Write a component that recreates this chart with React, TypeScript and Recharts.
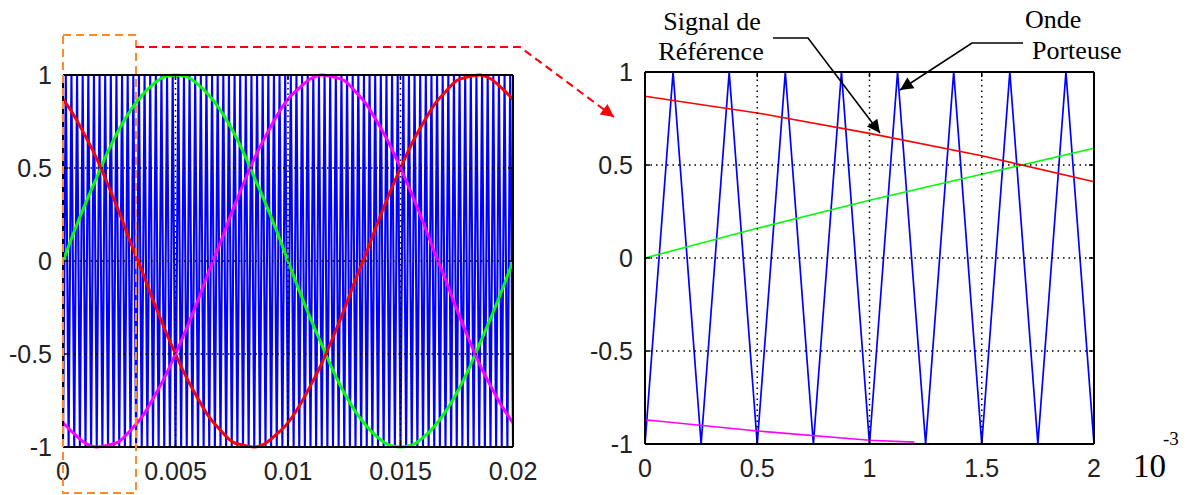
import { LineChart, Line, XAxis, YAxis, ReferenceLine } from 'recharts';

// carrier (triangle) vertices, in ms
const CARRIER_TROUGHS_MS = [
  0, 0.25, 0.5, 0.75, 1, 1.25, 1.5, 1.75, 2, 2.25, 2.5, 2.75, 3, 3.25, 3.5, 3.75,
  4, 4.25, 4.5, 4.75, 5, 5.25, 5.5, 5.75, 6, 6.25, 6.5, 6.75, 7, 7.25, 7.5, 7.75,
  8, 8.25, 8.5, 8.75, 9, 9.25, 9.5, 9.75, 10, 10.25, 10.5, 10.75, 11, 11.25, 11.5, 11.75,
  12, 12.25, 12.5, 12.75, 13, 13.25, 13.5, 13.75, 14, 14.25, 14.5, 14.75, 15, 15.25, 15.5, 15.75,
  16, 16.25, 16.5, 16.75, 17, 17.25, 17.5, 17.75, 18, 18.25, 18.5, 18.75, 19, 19.25, 19.5, 19.75,
  20,
];
const CARRIER_PEAKS_MS = [
  0.125, 0.375, 0.625, 0.875, 1.125, 1.375, 1.625, 1.875, 2.125, 2.375, 2.625, 2.875,
  3.125, 3.375, 3.625, 3.875, 4.125, 4.375, 4.625, 4.875, 5.125, 5.375, 5.625, 5.875,
  6.125, 6.375, 6.625, 6.875, 7.125, 7.375, 7.625, 7.875, 8.125, 8.375, 8.625, 8.875,
  9.125, 9.375, 9.625, 9.875, 10.125, 10.375, 10.625, 10.875, 11.125, 11.375, 11.625, 11.875,
  12.125, 12.375, 12.625, 12.875, 13.125, 13.375, 13.625, 13.875, 14.125, 14.375, 14.625, 14.875,
  15.125, 15.375, 15.625, 15.875, 16.125, 16.375, 16.625, 16.875, 17.125, 17.375, 17.625, 17.875,
  18.125, 18.375, 18.625, 18.875, 19.125, 19.375, 19.625, 19.875,
];
const CARRIER_MIN = -1;
const CARRIER_MAX = 1;

// reference signals, sampled every 0.5 ms
const TIME_MS = [
  0, 0.5, 1, 1.5, 2, 2.5, 3, 3.5, 4, 4.5, 5, 5.5, 6, 6.5, 7, 7.5, 8, 8.5, 9, 9.5,
  10, 10.5, 11, 11.5, 12, 12.5, 13, 13.5, 14, 14.5, 15, 15.5, 16, 16.5, 17, 17.5,
  18, 18.5, 19, 19.5, 20,
];
const REF_GREEN = [
  0, 0.16, 0.31, 0.45, 0.59, 0.71, 0.81, 0.89, 0.95, 0.99, 1, 0.99, 0.95, 0.89, 0.81, 0.71,
  0.59, 0.45, 0.31, 0.16, 0, -0.16, -0.31, -0.45, -0.59, -0.71, -0.81, -0.89, -0.95, -0.99,
  -1, -0.99, -0.95, -0.89, -0.81, -0.71, -0.59, -0.45, -0.31, -0.16, 0,
];
const REF_RED = [
  0.87, 0.78, 0.67, 0.55, 0.41, 0.26, 0.1, -0.05, -0.21, -0.36, -0.5, -0.63, -0.74, -0.84,
  -0.91, -0.97, -0.99, -1, -0.98, -0.93, -0.87, -0.78, -0.67, -0.55, -0.41, -0.26, -0.1,
  0.05, 0.21, 0.36, 0.5, 0.63, 0.74, 0.84, 0.91, 0.97, 0.99, 1, 0.98, 0.93, 0.87,
];
const REF_MAGENTA = [
  -0.87, -0.93, -0.98, -1, -0.99, -0.97, -0.91, -0.84, -0.74, -0.63, -0.5, -0.36, -0.21,
  -0.05, 0.1, 0.26, 0.41, 0.55, 0.67, 0.78, 0.87, 0.93, 0.98, 1, 0.99, 0.97, 0.91, 0.84,
  0.74, 0.63, 0.5, 0.36, 0.21, 0.05, -0.1, -0.26, -0.41, -0.55, -0.67, -0.78, -0.87,
];
// magenta only shows up to ~1.2 ms in the zoom, then it hides under the axis
const MAGENTA_ZOOM_MS = [0, 0.5, 1, 1.2];
const MAGENTA_ZOOM = [-0.87, -0.93, -0.98, -0.99];

const Y_TICKS = [-1, -0.5, 0, 0.5, 1];
const X_TICKS_FULL = [0, 5, 10, 15, 20];
const X_TICKS_ZOOM = [0, 0.5, 1, 1.5, 2];
const ZOOM_END_MS = 2;

type Row = { t: number; v: number };

const toRows = (t: number[], v: number[]): Row[] => t.map((x, i) => ({ t: x, v: v[i] }));

const carrierRows: Row[] = [
  ...CARRIER_TROUGHS_MS.map((t) => ({ t, v: CARRIER_MIN })),
  ...CARRIER_PEAKS_MS.map((t) => ({ t, v: CARRIER_MAX })),
].sort((a, b) => a.t - b.t);

const greenRows = toRows(TIME_MS, REF_GREEN);
const redRows = toRows(TIME_MS, REF_RED);
const magentaRows = toRows(TIME_MS, REF_MAGENTA);

const inZoom = (r: Row) => r.t <= ZOOM_END_MS;

const TICK_FONT = { fontFamily: '"Liberation Sans", Arial, sans-serif', fontSize: 25, fill: '#222' };
const SERIF = '"Liberation Serif", "Times New Roman", serif';
const FRAME = { stroke: '#000', strokeWidth: 2 };
const MINOR = { stroke: '#000', strokeWidth: 1.5 };
const GRID = { stroke: '#000', strokeWidth: 1.5, strokeDasharray: '1.5 4' };
const Y_AXIS_W = 60;
const CHART_H = 495;
const X_AXIS_H = 40;
const TICK_PX = 5;

const fmtSeconds = (v: number) => String(v / 1000);

interface PanelProps {
  width: number;
  margin: { top: number; right: number; bottom: number; left: number };
  xTicks: number[];
  xFormat?: (v: number) => string;
  xTickMargin: number;
  yTickMargin: number;
  carrier: Row[];
  green: Row[];
  red: Row[];
  magenta: Row[];
  curve: 'monotone' | 'linear';
  refWidth: number;
  carrierWidth: number;
}

function Panel(p: PanelProps) {
  const x0 = p.xTicks[0];
  const x1 = p.xTicks[p.xTicks.length - 1];
  const grid = p.xTicks.slice(1, -1);
  const plotW = p.width - p.margin.left - p.margin.right - Y_AXIS_W;
  const plotH = CHART_H - p.margin.top - p.margin.bottom - X_AXIS_H;
  // length of the small inward ticks, in data units
  const dx = (TICK_PX * (x1 - x0)) / plotW;
  const dy = (TICK_PX * 2) / plotH;
  const ax = { xAxisId: 'b', yAxisId: 'l' };
  return (
    <LineChart width={p.width} height={CHART_H} margin={p.margin}>
      <XAxis
        xAxisId="b"
        dataKey="t"
        type="number"
        domain={[x0, x1]}
        ticks={p.xTicks}
        tickFormatter={p.xFormat}
        interval={0}
        height={X_AXIS_H}
        tickLine={false}
        tickSize={0}
        tickMargin={p.xTickMargin}
        axisLine={false}
        tick={TICK_FONT}
      />
      <YAxis
        yAxisId="l"
        type="number"
        domain={[-1, 1]}
        ticks={Y_TICKS}
        interval={0}
        width={Y_AXIS_W}
        tickLine={false}
        tickSize={0}
        tickMargin={p.yTickMargin}
        axisLine={false}
        tick={TICK_FONT}
      />
      <Line {...ax} data={p.carrier} dataKey="v" type="linear" stroke="#0000ff" strokeWidth={p.carrierWidth} dot={false} isAnimationActive={false} />
      <Line {...ax} data={p.green} dataKey="v" type={p.curve} stroke="#00ff00" strokeWidth={p.refWidth} dot={false} isAnimationActive={false} />
      <Line {...ax} data={p.red} dataKey="v" type={p.curve} stroke="#ff0000" strokeWidth={p.refWidth} dot={false} isAnimationActive={false} />
      <Line {...ax} data={p.magenta} dataKey="v" type={p.curve} stroke="#ff00ff" strokeWidth={p.refWidth} dot={false} isAnimationActive={false} />

      {grid.map((x) => (
        <ReferenceLine key={`gx-${x}`} {...ax} x={x} {...GRID} />
      ))}
      {[-0.5, 0, 0.5].map((y) => (
        <ReferenceLine key={`gy-${y}`} {...ax} y={y} {...GRID} />
      ))}

      {/* inward ticks on all four sides */}
      {grid.map((x) => (
        <ReferenceLine key={`tb-${x}`} {...ax} segment={[{ x, y: -1 }, { x, y: -1 + dy }]} {...MINOR} />
      ))}
      {grid.map((x) => (
        <ReferenceLine key={`tt-${x}`} {...ax} segment={[{ x, y: 1 }, { x, y: 1 - dy }]} {...MINOR} />
      ))}
      {[-0.5, 0, 0.5].map((y) => (
        <ReferenceLine key={`tl-${y}`} {...ax} segment={[{ x: x0, y }, { x: x0 + dx, y }]} {...MINOR} />
      ))}
      {[-0.5, 0, 0.5].map((y) => (
        <ReferenceLine key={`tr-${y}`} {...ax} segment={[{ x: x1, y }, { x: x1 - dx, y }]} {...MINOR} />
      ))}

      {/* box */}
      <ReferenceLine {...ax} y={1} {...FRAME} />
      <ReferenceLine {...ax} y={-1} {...FRAME} />
      <ReferenceLine {...ax} x={x0} {...FRAME} />
      <ReferenceLine {...ax} x={x1} {...FRAME} />
    </LineChart>
  );
}

function Annotations() {
  return (
    <svg width={1191} height={495} style={{ position: 'absolute', left: 0, top: 0, pointerEvents: 'none' }}>
      <defs>
        <marker id="headBlack" viewBox="0 0 10 10" refX="10" refY="5" markerWidth="18" markerHeight="13" markerUnits="userSpaceOnUse" orient="auto">
          <path d="M0,0 L10,5 L0,10 z" fill="#000" />
        </marker>
        <marker id="headRed" viewBox="0 0 10 10" refX="10" refY="5" markerWidth="16" markerHeight="13" markerUnits="userSpaceOnUse" orient="auto">
          <path d="M0,0 L10,5 L0,10 z" fill="#ff0000" />
        </marker>
      </defs>

      {/* zoom window and pointer */}
      <rect x={63} y={35} width={73} height={458} fill="none" stroke="#ff8a2a" strokeWidth={2} strokeDasharray="8 5" />
      <polyline points="136,47 520,47 614,117" fill="none" stroke="#ff0000" strokeWidth={2} strokeDasharray="8 5" markerEnd="url(#headRed)" />

      {/* labels */}
      <g fontFamily={SERIF} fill="#000" style={{ fontSize: 26 }}>
        <text x={712} y={30} textAnchor="middle">Signal de</text>
        <text x={711} y={60} textAnchor="middle">Référence</text>
        <text x={1025} y={28}>Onde</text>
        <text x={1032} y={59}>Porteuse</text>
      </g>
      <polyline points="773,38 808,38 880,133" fill="none" stroke="#000" strokeWidth={1.6} markerEnd="url(#headBlack)" />
      <polyline points="1023,43 972,43 900,90" fill="none" stroke="#000" strokeWidth={1.6} markerEnd="url(#headBlack)" />

      <text x={1133} y={477} fontFamily={SERIF} fill="#000" style={{ fontSize: 33 }}>
        10
      </text>
      <text x={1163} y={445} fontFamily={SERIF} fill="#000" style={{ fontSize: 19 }}>
        -3
      </text>
    </svg>
  );
}

export default function App() {
  return (
    <div style={{ position: 'absolute', left: 0, top: 0, width: 1191, height: 495, background: '#fff', overflow: 'hidden' }}>
      <div style={{ position: 'absolute', left: 0, top: 0 }}>
        <Panel
          width={540}
          margin={{ top: 75, right: 27, bottom: 8, left: 3 }}
          xTicks={X_TICKS_FULL}
          xFormat={fmtSeconds}
          xTickMargin={15}
          yTickMargin={11}
          carrier={carrierRows}
          green={greenRows}
          red={redRows}
          magenta={magentaRows}
          curve="monotone"
          refWidth={3}
          carrierWidth={2.1}
        />
      </div>
      <div style={{ position: 'absolute', left: 560, top: 0 }}>
        <Panel
          width={560}
          margin={{ top: 72, right: 26, bottom: 11, left: 25 }}
          xTicks={X_TICKS_ZOOM}
          xTickMargin={15}
          yTickMargin={12}
          carrier={carrierRows.filter(inZoom)}
          green={greenRows.filter(inZoom)}
          red={redRows.filter(inZoom)}
          magenta={toRows(MAGENTA_ZOOM_MS, MAGENTA_ZOOM)}
          curve="linear"
          refWidth={1.6}
          carrierWidth={1.7}
        />
      </div>
      <Annotations />
    </div>
  );
}
